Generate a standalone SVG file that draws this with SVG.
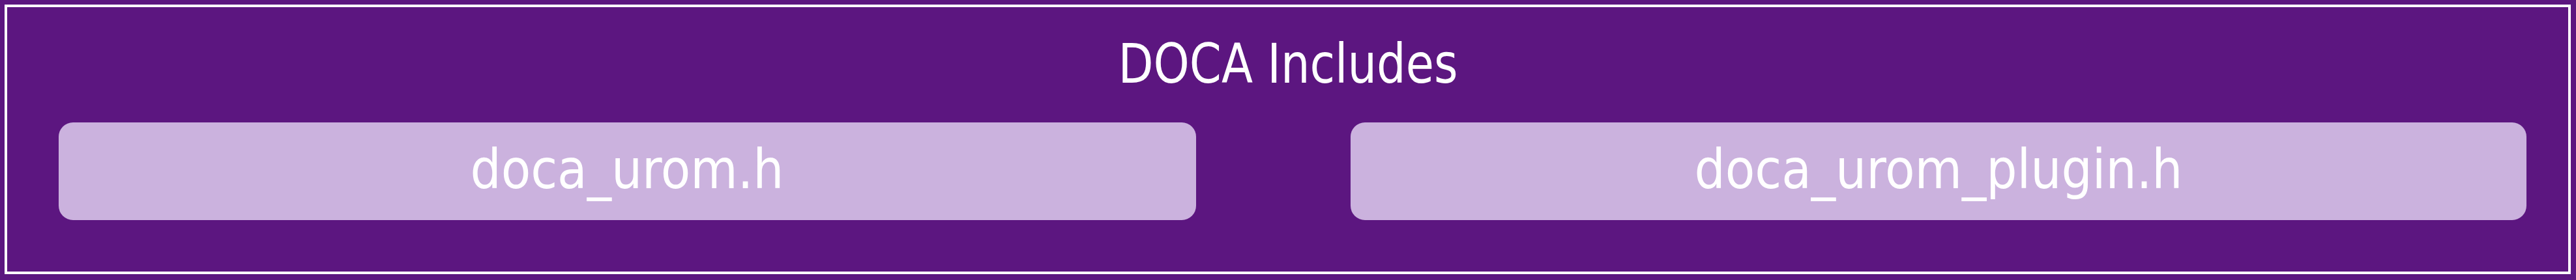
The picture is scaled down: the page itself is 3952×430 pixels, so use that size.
<svg xmlns="http://www.w3.org/2000/svg" width="3952" height="430" viewBox="0 0 3952 430">
<style>
.bg{fill:#5C1680}
.frame{fill:none;stroke:#FFFFFF;stroke-width:4}
.box{fill:#CBB2DE}
.t{font-family:"DejaVu Sans Condensed","DejaVu Sans","Liberation Sans",sans-serif;font-size:84px;fill:#FFFFFF;text-anchor:middle}
</style>
<rect class="bg" x="0" y="0" width="3952" height="430"/>
<g id="container">
<rect class="frame" x="9" y="9" width="3933" height="410"/>
<text class="t" x="1976" y="127" textLength="521" lengthAdjust="spacingAndGlyphs">DOCA Includes</text>
</g>
<g id="node-doca_urom">
<rect class="box" x="90" y="188" width="1745" height="150" rx="22" ry="22"/>
<text class="t" x="962" y="289" textLength="481" lengthAdjust="spacingAndGlyphs">doca_urom.h</text>
</g>
<g id="node-doca_urom_plugin">
<rect class="box" x="2072" y="188" width="1804" height="150" rx="22" ry="22"/>
<text class="t" x="2974" y="289" textLength="749" lengthAdjust="spacingAndGlyphs">doca_urom_plugin.h</text>
</g>
<g id="connectors"></g>
</svg>
